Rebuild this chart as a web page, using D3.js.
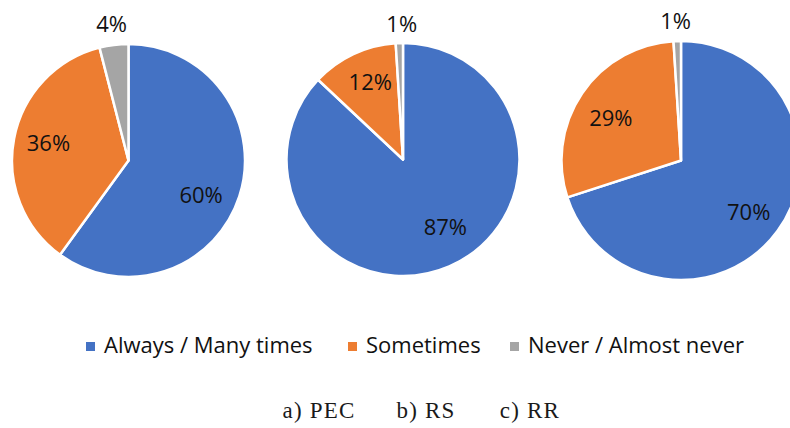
<!DOCTYPE html>
<html>
<head>
<meta charset="utf-8">
<script src="https://cdn.jsdelivr.net/npm/d3@7"></script>
<style>
  html, body { margin: 0; padding: 0; background: #ffffff; }
  svg { display: block; }
</style>
</head>
<body>
<svg id="chart" width="790" height="428"></svg>
<script>
// Response categories shared by all three pies
const categories = ["Always / Many times", "Sometimes", "Never / Almost never"];
const colors = ["#4472C4", "#ED7D31", "#A5A5A5"];

// Percentage of answers per pie
const pecValues = [60, 36, 4];
const rsValues = [87, 12, 1];
const rrValues = [70, 29, 1];

// Sub-figure captions
const captions = ["a) PEC", "b) RS", "c) RR"];

// Small per-label offsets (px) applied after the radial placement
const pecNudge = [[-5, 9], [0, -2], [0, -2]];
const rsNudge  = [[10, -7], [2, -4], [3, 0]];
const rrNudge  = [[0, 2], [-1, 5], [-1, -1]];

const pies = [
  { values: pecValues, nudge: pecNudge, cx: 128.5, cy: 160.5, r: 116.5 },
  { values: rsValues,  nudge: rsNudge,  cx: 403,   cy: 159.5, r: 116.5 },
  { values: rrValues,  nudge: rrNudge,  cx: 681,   cy: 160.5, r: 119.5 }
];

const svg = d3.select("#chart");

const pie = d3.pie().sort(null).value(d => d);

pies.forEach(p => {
  const g = svg.append("g").attr("transform", `translate(${p.cx},${p.cy})`);
  const arcs = pie(p.values);
  const arc = d3.arc().innerRadius(0).outerRadius(p.r);

  g.selectAll("path")
    .data(arcs)
    .join("path")
    .attr("d", arc)
    .attr("fill", (d, i) => colors[i])
    .attr("stroke", "#ffffff")
    .attr("stroke-width", 2.5)
    .attr("stroke-linejoin", "round");

  // Labels: inside at 70% of the radius, small slices just outside the rim
  g.selectAll("text")
    .data(arcs)
    .join("text")
    .attr("transform", (d, i) => {
      const a = (d.startAngle + d.endAngle) / 2;
      const rr = (d.value < 5) ? p.r + 19 : p.r * 0.70;
      const [nx, ny] = p.nudge[i];
      return `translate(${rr * Math.sin(a) + nx},${-rr * Math.cos(a) + ny})`;
    })
    .attr("text-anchor", "middle")
    .attr("dy", "0.36em")
    .attr("font-family", "'Open Sans', sans-serif")
    .attr("font-size", 22)
    .attr("fill", "#111111")
    .text(d => d.value + "%");
});

// Legend
const legendX = [86, 348, 510];
const legend = svg.append("g");
categories.forEach((c, i) => {
  legend.append("rect")
    .attr("x", legendX[i])
    .attr("y", 342)
    .attr("width", 9)
    .attr("height", 9)
    .attr("fill", colors[i]);
  legend.append("text")
    .attr("x", legendX[i] + 18)
    .attr("y", 353)
    .attr("font-family", "'Open Sans', sans-serif")
    .attr("font-size", 22)
    .attr("fill", "#111111")
    .text(c);
});

// Captions
const captionX = [319, 426, 530];
svg.selectAll("text.caption")
  .data(captions)
  .join("text")
  .attr("class", "caption")
  .attr("x", (d, i) => captionX[i])
  .attr("y", 418)
  .attr("text-anchor", "middle")
  .attr("font-family", "'Liberation Serif', 'DejaVu Serif', serif")
  .attr("font-size", 23)
  .attr("letter-spacing", 1.2)
  .attr("fill", "#1a1a1a")
  .text(d => d);
</script>
</body>
</html>
